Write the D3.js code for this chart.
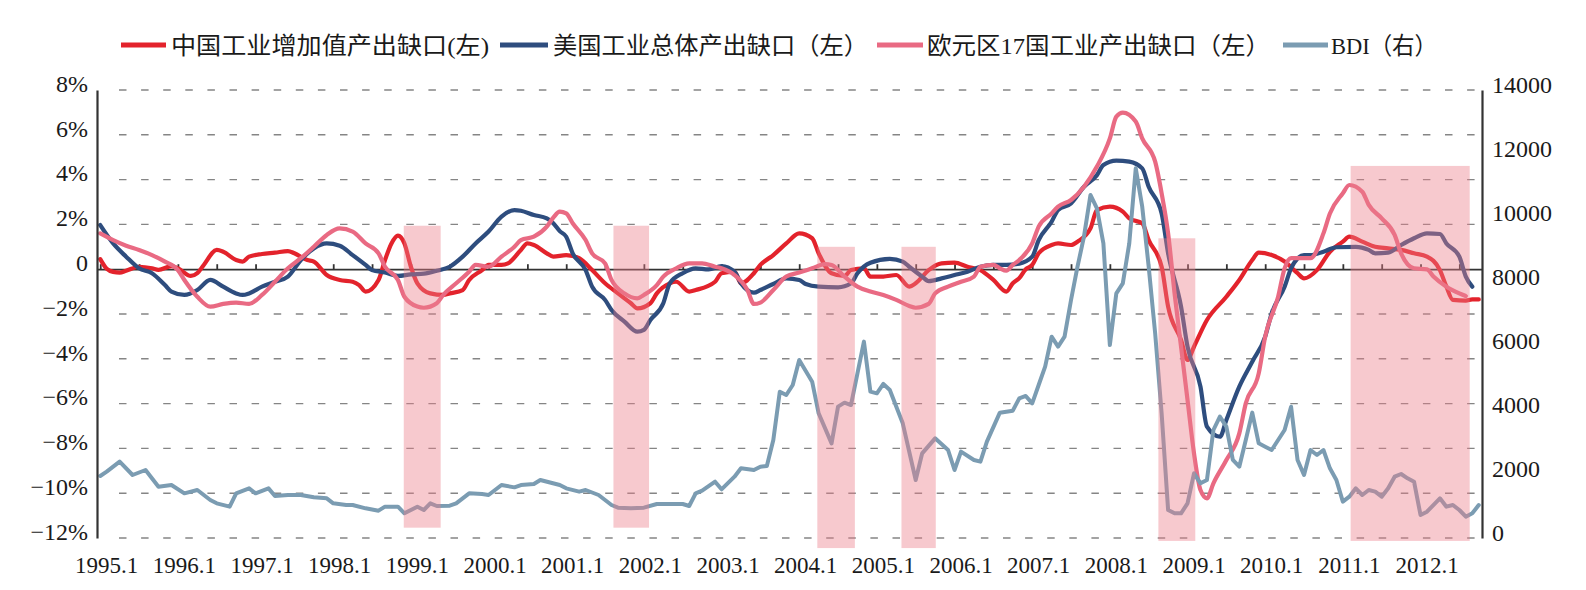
<!DOCTYPE html>
<html><head><meta charset="utf-8">
<script src="https://cdn.jsdelivr.net/npm/d3@7"></script>
<style>
html,body{margin:0;padding:0;background:#fff;}
svg{display:block;}
</style></head><body>
<svg id="chart" width="1586" height="590"></svg>
<script>
// ---------- DATA (month offset from 1995.1, value) ----------
const startYear = 1995;
const monthCount = 214; // 1995.1 - 2012.10
const yearLabels = ["1995.1","1996.1","1997.1","1998.1","1999.1","2000.1","2001.1","2002.1","2003.1","2004.1","2005.1","2006.1","2007.1","2008.1","2009.1","2010.1","2011.1","2012.1"];
const leftTicks = [8,6,4,2,0,-2,-4,-6,-8,-10,-12];
const rightTicks = [0,2000,4000,6000,8000,10000,12000,14000];

const seriesNames = ["中国工业增加值产出缺口(左)","美国工业总体产出缺口（左）","欧元区17国工业产出缺口（左）","BDI（右）"];
const seriesColors = ["#e3232c","#2e4d7e","#e96a83","#7b9cb2"];

const chinaGap = [[0,0.45],[1,0.02],[2,-0.12],[3,-0.15],[4,-0.07],[6,0.11],[8,0.04],[9,-0.03],[11,0.14],[12,0.04],[14,-0.3],[15,-0.18],[16,0.19],[18,0.86],[19,0.78],[21,0.41],[22,0.34],[23,0.56],[25,0.68],[27,0.74],[29,0.81],[30,0.71],[32,0.41],[33,0.34],[35,-0.26],[37,-0.48],[39,-0.56],[40,-0.71],[41,-1.0],[43,-0.48],[44,0.41],[45,1.15],[46,1.5],[47,1.15],[48,0.11],[49,-0.63],[51,-1.08],[53,-1.15],[54,-1.08],[56,-0.93],[57,-0.48],[59,-0.04],[60,0.19],[62,0.19],[63,0.26],[65,0.86],[66,1.15],[67,1.08],[69,0.71],[70,0.56],[72,0.63],[74,0.49],[76,-0.04],[78,-0.63],[80,-1.08],[82,-1.52],[83,-1.75],[85,-1.52],[86,-1.08],[88,-0.63],[89,-0.56],[91,-1.0],[92,-0.93],[95,-0.56],[96,-0.18],[98,-0.11],[99,-0.63],[101,-0.18],[102,0.19],[104,0.63],[106,1.15],[108,1.6],[110,1.38],[111,0.71],[113,-0.18],[115,-0.3],[116,-0.04],[118,0.04],[119,-0.33],[121,-0.33],[123,-0.26],[125,-0.78],[126,-0.63],[128,-0.04],[130,0.26],[132,0.29],[134,0.11],[136,-0.04],[138,-0.48],[140,-1.0],[141,-0.63],[142,-0.4],[143,0.0],[144,0.19],[145,0.71],[147,1.08],[148,1.15],[150,1.08],[151,1.23],[153,1.82],[154,2.64],[156,2.79],[158,2.57],[159,2.27],[161,2.05],[162,1.3],[164,0.11],[165,-1.67],[167,-3.16],[168,-4.05],[169,-3.46],[171,-2.27],[174,-1.23],[176,-0.48],[178,0.41],[179,0.74],[181,0.63],[183,0.34],[185,-0.18],[186,-0.41],[188,-0.04],[190,0.78],[192,1.23],[193,1.45],[195,1.23],[197,1.0],[199,0.93],[201,0.86],[203,0.71],[205,0.56],[207,-0.04],[208,-0.78],[209,-1.37],[211,-1.4],[212,-1.35],[213,-1.35]];

const usGap = [[0,1.97],[2,1.15],[4,0.56],[6,0.04],[8,-0.18],[10,-0.71],[11,-1.0],[13,-1.15],[15,-0.93],[17,-0.48],[19,-0.78],[21,-1.08],[22,-1.15],[23,-1.08],[25,-0.78],[27,-0.56],[29,-0.33],[31,0.41],[33,0.93],[35,1.15],[37,1.05],[39,0.63],[41,0.19],[42,-0.04],[44,-0.15],[46,-0.3],[48,-0.23],[50,-0.2],[52,-0.07],[54,0.11],[56,0.56],[58,1.15],[60,1.68],[62,2.35],[64,2.64],[65,2.61],[67,2.42],[69,2.27],[70,2.05],[71,1.7],[72,1.45],[73,0.71],[75,-0.04],[76,-0.78],[78,-1.37],[79,-1.82],[81,-2.34],[83,-2.79],[84,-2.71],[85,-2.27],[87,-1.52],[88,-0.63],[90,-0.18],[92,0.04],[94,-0.01],[96,0.14],[98,-0.11],[99,-0.63],[101,-1.05],[102,-0.93],[104,-0.66],[106,-0.41],[108,-0.48],[109,-0.66],[111,-0.78],[114,-0.81],[116,-0.63],[117,-0.18],[119,0.29],[122,0.46],[124,0.34],[125,0.11],[127,-0.33],[128,-0.53],[130,-0.41],[132,-0.26],[134,-0.11],[136,0.11],[138,0.19],[140,0.19],[142,0.25],[144,0.56],[145,1.3],[147,2.12],[148,2.64],[150,2.94],[152,3.68],[154,4.2],[155,4.65],[157,4.85],[159,4.8],[161,4.5],[162,3.68],[164,2.49],[165,0.71],[167,-1.67],[168,-3.46],[170,-5.24],[171,-7.03],[173,-7.48],[174,-6.73],[176,-5.24],[178,-4.13],[180,-3.01],[181,-1.97],[183,-0.78],[184,0.04],[186,0.63],[187,0.63],[189,0.78],[191,0.98],[194,1.0],[196,0.86],[197,0.71],[199,0.74],[201,1.08],[203,1.38],[205,1.6],[207,1.57],[208,1.15],[210,0.56],[211,-0.33],[212,-0.78]];

const euroGap = [[0,1.6],[2,1.3],[4,1.05],[6,0.86],[8,0.63],[10,0.34],[12,-0.04],[13,-0.48],[15,-1.23],[17,-1.67],[19,-1.55],[21,-1.49],[23,-1.55],[25,-1.15],[27,-0.56],[29,0.04],[31,0.49],[33,1.0],[35,1.53],[37,1.82],[39,1.68],[41,1.15],[43,0.71],[44,0.11],[46,-0.48],[47,-1.23],[49,-1.67],[50,-1.72],[52,-1.52],[53,-1.15],[55,-0.63],[57,-0.11],[58,0.19],[60,0.11],[62,0.56],[64,1.0],[65,1.3],[67,1.45],[69,1.9],[70,2.3],[71,2.57],[72,2.49],[73,2.05],[75,1.3],[76,0.71],[78,0.26],[79,-0.48],[81,-1.08],[83,-1.3],[84,-1.15],[86,-0.71],[87,-0.33],[89,0.04],[91,0.26],[93,0.26],[95,0.11],[96,0.04],[98,-0.26],[100,-0.93],[101,-1.55],[102,-1.49],[104,-0.93],[106,-0.33],[108,-0.15],[110,0.04],[112,0.23],[113,0.19],[115,-0.33],[117,-0.78],[119,-1.0],[121,-1.15],[123,-1.37],[125,-1.64],[126,-1.72],[128,-1.55],[129,-1.08],[131,-0.78],[133,-0.56],[135,-0.33],[136,0.11],[138,0.19],[139,0.04],[140,-0.07],[141,0.19],[142,0.41],[144,1.15],[145,1.9],[147,2.49],[148,2.79],[150,3.09],[152,3.68],[154,4.58],[156,5.84],[157,6.81],[158,6.99],[160,6.59],[161,5.84],[163,4.8],[164,3.39],[165,1.6],[166,-1.08],[167,-3.46],[168,-5.84],[169,-8.22],[170,-9.86],[171,-10.23],[172,-9.56],[174,-8.52],[176,-7.33],[177,-5.99],[179,-4.65],[180,-3.01],[182,-1.23],[183,0.04],[184,0.49],[186,0.49],[187,0.49],[189,1.6],[190,2.49],[192,3.39],[193,3.76],[195,3.46],[196,2.87],[198,2.27],[200,1.53],[201,0.71],[203,0.04],[205,-0.01],[206,-0.33],[208,-0.78],[210,-1.08],[211,-1.2]];

const bdi = [[0,1938],[1,2073],[3,2385],[5,1969],[7,2125],[9,1604],[11,1656],[13,1396],[15,1500],[17,1188],[18,1083],[20,979],[21,1396],[23,1552],[24,1396],[26,1552],[27,1313],[29,1344],[31,1344],[33,1271],[35,1240],[36,1083],[38,1031],[39,1031],[41,927],[43,854],[44,979],[46,979],[47,771],[49,979],[50,875],[51,1083],[52,1000],[54,1010],[55,1083],[57,1396],[59,1375],[60,1344],[62,1656],[64,1583],[65,1656],[67,1688],[68,1813],[71,1656],[72,1552],[74,1448],[75,1500],[77,1344],[79,1031],[80,948],[82,927],[84,948],[86,1063],[88,1063],[90,1063],[91,1000],[92,1396],[93,1479],[95,1760],[96,1521],[98,1917],[99,2177],[101,2125],[102,2229],[103,2250],[104,3063],[105,4573],[106,4469],[107,4781],[108,5563],[110,4885],[111,3896],[113,2958],[114,4104],[115,4229],[116,4156],[117,5146],[118,6136],[119,4573],[120,4521],[121,4813],[122,4625],[124,3583],[126,1813],[127,2646],[129,3115],[131,2750],[132,2125],[133,2698],[135,2438],[136,2385],[137,3010],[139,3917],[141,3979],[142,4365],[143,4438],[144,4208],[145,4781],[146,5354],[147,6292],[148,5979],[149,6292],[150,7438],[151,8479],[152,9417],[153,10719],[154,10302],[155,9208],[156,6031],[157,7646],[158,7958],[159,9208],[160,11552],[161,10354],[162,8479],[163,6396],[164,3896],[165,875],[166,771],[167,771],[168,1083],[169,2021],[170,1708],[171,1813],[172,3375],[173,3792],[174,3479],[175,2438],[176,2229],[177,3063],[178,3917],[179,2958],[180,2854],[181,2750],[182,3063],[183,3375],[184,4104],[185,2438],[186,1969],[187,2750],[188,2594],[189,2750],[190,2177],[191,1813],[192,1135],[193,1292],[194,1552],[195,1344],[196,1500],[197,1448],[198,1292],[199,1552],[200,1917],[201,2000],[202,1865],[203,1760],[204,719],[205,823],[207,1240],[208,979],[209,1031],[210,875],[211,667],[212,771],[213,1031]];

// highlighted periods (month-boundary offsets, left-axis % extent)
const highlightFrom = [47.4, 79.8, 111.3, 124.3, 164.0, 193.7];
const highlightTo   = [53.1, 85.3, 117.1, 129.6, 169.7, 212.1];
const highlightTop  = [1.94, 1.94, 1.0, 1.0, 1.38, 4.61];
const highlightBottom = [-11.54, -11.54, -12.45, -12.45, -12.13, -12.13];

// ---------- CHART ----------
const svg = d3.select("#chart");
const plotL = 97, plotR = 1482, plotT = 90, plotB = 538;
const serif = "'Liberation Serif','Times New Roman',serif";
const legendFont = "'Liberation Serif','Noto Sans CJK SC',serif";

const x = d3.scaleLinear().domain([-0.5, monthCount - 0.5]).range([plotL, plotR]);
const yL = d3.scaleLinear().domain([-12, 8]).range([plotB, plotT]);
const yR = d3.scaleLinear().domain([0, 14000]).range([plotB, plotT]);

svg.append("rect").attr("width",1586).attr("height",590).attr("fill","#fff");

// dashed gridlines
svg.append("g").selectAll("line").data(leftTicks.filter(d => d !== 0)).join("line")
  .attr("x1", plotL + 22).attr("x2", plotR - 4)
  .attr("y1", d => yL(d)).attr("y2", d => yL(d))
  .attr("stroke", "#858585").attr("stroke-width", 1.4)
  .attr("stroke-dasharray", "7.5 14.6");

// zero line with half-year ticks
svg.append("g").attr("transform", `translate(0,${yL(0)})`)
  .call(d3.axisTop(x).tickValues(d3.range(0, monthCount, 6)).tickSize(5).tickSizeOuter(0).tickFormat(""))
  .call(g => g.selectAll("path,line").attr("stroke", "#333").attr("stroke-width", 1.8));

// series lines
const lineL = d3.line().x(d => x(d[0])).y(d => yL(d[1])).curve(d3.curveMonotoneX);
const lineR = d3.line().x(d => x(d[0])).y(d => yR(d[1]));
const gapSeries = [chinaGap, usGap, euroGap];
const lines = svg.append("g").attr("fill", "none").attr("stroke-linejoin", "round").attr("stroke-linecap", "round");
gapSeries.forEach((s, k) => {
  lines.append("path").attr("d", lineL(s)).attr("stroke", seriesColors[k]).attr("stroke-width", 4.2);
});
lines.append("path").attr("d", lineR(bdi)).attr("stroke", seriesColors[3]).attr("stroke-width", 4);

// highlight rectangles (translucent, on top)
svg.append("g").selectAll("rect").data(highlightFrom).join("rect")
  .attr("x", (d) => x(d - 0.5))
  .attr("width", (d, i) => x(highlightTo[i] - 0.5) - x(d - 0.5))
  .attr("y", (d, i) => yL(highlightTop[i]))
  .attr("height", (d, i) => yL(highlightBottom[i]) - yL(highlightTop[i]))
  .attr("fill", "#ec7e8a").attr("fill-opacity", 0.42);

// left axis
svg.append("g").attr("transform", `translate(${plotL},0)`)
  .call(d3.axisLeft(yL).tickValues(leftTicks).tickSize(0).tickSizeOuter(0).tickPadding(9)
    .tickFormat(d => d === 0 ? "0" : (d < 0 ? "\u2212" + (-d) : d) + "%"))
  .call(g => g.select(".domain").attr("stroke", "#333").attr("stroke-width", 2.2))
  .call(g => g.selectAll("text").attr("font-family", serif).attr("font-size", 24).attr("fill", "#1a1a1a").attr("dy", "0.05em"));

// right axis
svg.append("g").attr("transform", `translate(${plotR},0)`)
  .call(d3.axisRight(yR).tickValues(rightTicks).tickSize(0).tickSizeOuter(0).tickPadding(10)
    .tickFormat(d3.format("d")))
  .call(g => g.select(".domain").attr("stroke", "#333").attr("stroke-width", 2.2))
  .call(g => g.selectAll("text").attr("font-family", serif).attr("font-size", 24).attr("fill", "#1a1a1a").attr("dy", "0.1em"));

// bottom labels
svg.append("g").attr("transform", `translate(0,${plotB})`)
  .call(d3.axisBottom(x).tickValues(yearLabels.map((d, k) => k * 12)).tickSize(0).tickPadding(18.7)
    .tickFormat((d, k) => yearLabels[k]))
  .call(g => g.select(".domain").remove())
  .call(g => g.selectAll("text").attr("font-family", serif).attr("font-size", 23).attr("fill", "#1a1a1a").attr("dx", 6));

// legend
const legendSwatchX = [121, 500, 877, 1283];
const legendSwatchLen = [45, 48, 46, 45];
const legendTextX = [171, 553, 927, 1331];
const legendTextW = [318, 315, 343, 106];
const legend = svg.append("g");
seriesNames.forEach((name, k) => {
  legend.append("line")
    .attr("x1", legendSwatchX[k]).attr("x2", legendSwatchX[k] + legendSwatchLen[k])
    .attr("y1", 45).attr("y2", 45)
    .attr("stroke", seriesColors[k]).attr("stroke-width", 5);
  legend.append("text")
    .attr("x", legendTextX[k]).attr("y", 54)
    .attr("font-family", legendFont).attr("font-size", 24).attr("fill", "#1a1a1a")
    .attr("textLength", legendTextW[k]).attr("lengthAdjust", "spacingAndGlyphs")
    .text(name);
});
</script>
</body></html>
